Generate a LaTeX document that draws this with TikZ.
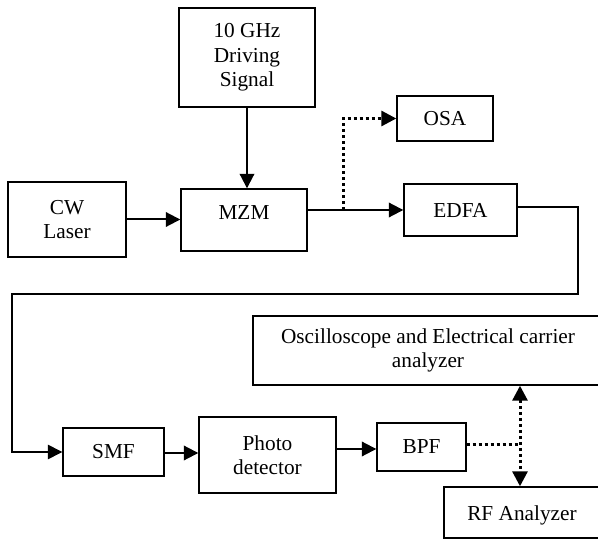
\documentclass[tikz,border=0pt]{standalone}
\usepackage{fontspec}
\setmainfont{Liberation Serif}
\usetikzlibrary{arrows.meta}
\begin{document}
\begin{tikzpicture}[x=1pt,y=-1pt,
  box/.style={draw,line width=1.4pt,inner sep=0pt,align=center,font=\fontsize{21.3}{24.5}\selectfont},
  conn/.style={line width=2pt,-{Triangle[length=14.5pt,width=14.5pt]}},
  thin/.style={line width=1.4pt},
  dots/.style={line width=3pt,dash pattern=on 3.3pt off 2.7pt},
  dotarrow/.style={dots,-{Triangle[length=15pt,width=15pt]}}]
\useasboundingbox (0,0) rectangle (598,540);
\clip (0,0) rectangle (598,540);
\node[box,minimum width=136pt,minimum height=99pt] (drv) at (247,57.5) {10 GHz\\Driving\\Signal};
\node[box,minimum width=118pt,minimum height=75pt] (cw) at (67,219.5) {CW\\Laser};
\node[box,minimum width=126pt,minimum height=62pt] (mzm) at (244,220) {\raisebox{7pt}[\height][\depth]{MZM}};
\node[box,minimum width=96pt,minimum height=45pt] (osa) at (445,118.5) {OSA};
\node[box,minimum width=113pt,minimum height=52pt] (edfa) at (460.5,210) {EDFA};
\node[box,minimum width=350pt,minimum height=69pt] (osc) at (428,350.5) {Oscilloscope and Electrical carrier\\analyzer};
\node[box,minimum width=101pt,minimum height=48pt] (smf) at (113.5,452) {SMF};
\node[box,minimum width=137pt,minimum height=76pt] (pd) at (267.5,455) {Photo\\detector};
\node[box,minimum width=89pt,minimum height=48pt] (bpf) at (421.5,447) {BPF};
\node[box,minimum width=156pt,minimum height=51pt] (rf) at (522,512.5) {\raisebox{-2.5pt}[\height][\depth]{RF Analyzer}};
\coordinate (tap) at (343,210);
\coordinate (junc) at (520,445);
\draw[conn] (drv.south) -- (drv.south |- mzm.north);
\draw[conn] (cw.east) -- (cw.east -| mzm.west);
\draw[conn] (mzm.east |- edfa.west) -- (edfa.west);
\draw[dotarrow] (tap) |- (osa.west);
\draw[thin,-{Triangle[length=14.5pt,width=14.5pt]}] (edfa.east |- 0,207) -| (578,294) -| (12,452) -- (smf.west);
\draw[conn] (smf.east |- 0,453) -- (pd.west |- 0,453);
\draw[conn] (pd.east |- 0,449) -- (bpf.west |- 0,449);
\draw[dots] (bpf.east |- 0,445) -- (junc);
\draw[dots,{Triangle[length=15pt,width=15pt]}-{Triangle[length=15pt,width=15pt]}] (junc |- osc.south) -- (junc |- rf.north);
\end{tikzpicture}
\end{document}
